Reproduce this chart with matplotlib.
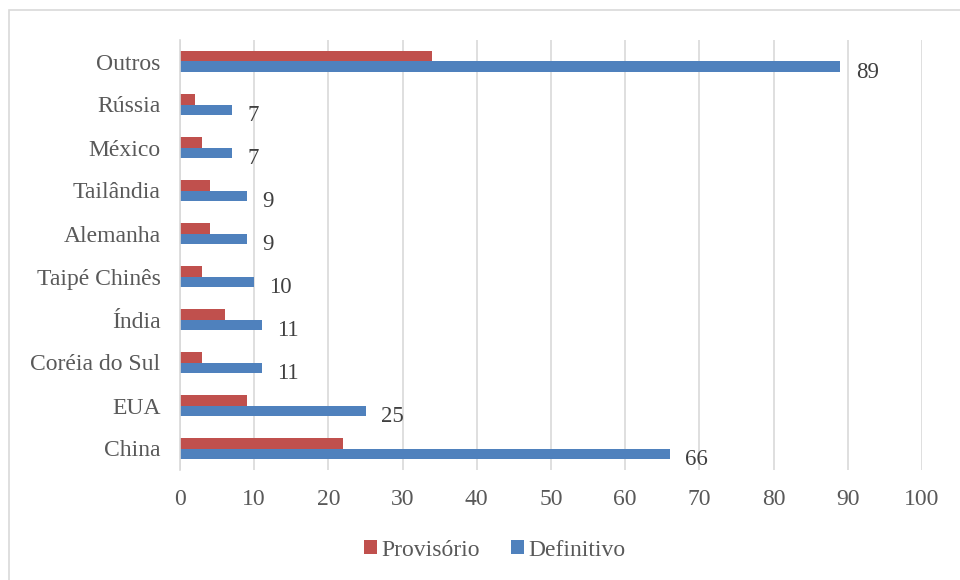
import matplotlib.pyplot as plt
import numpy as np
from matplotlib.patches import Rectangle

# data (bottom to top)
paises = ['China', 'EUA', 'Coréia do Sul', 'Índia', 'Taipé Chinês',
          'Alemanha', 'Tailândia', 'México', 'Rússia', 'Outros']
definitivo = [66, 25, 11, 11, 10, 9, 9, 7, 7, 89]
provisorio = [22, 9, 3, 6, 3, 4, 4, 3, 2, 34]
xticks = [0, 10, 20, 30, 40, 50, 60, 70, 80, 90, 100]

cor_prov = '#C0504D'
cor_def = '#4F81BD'
cor_txt = '#595959'

plt.rcParams['font.family'] = ['Liberation Serif', 'DejaVu Serif']

fig = plt.figure(figsize=(9.6, 5.8), dpi=100)
ax = fig.add_axes([180 / 960, 1 - 470 / 580, 742 / 960, 430 / 580])

y = np.arange(len(paises))
h = 0.255
ax.barh(y + h / 2, provisorio, height=h, color=cor_prov, label='Provisório')
ax.barh(y - h / 2, definitivo, height=h, color=cor_def, label='Definitivo')

for yi, v in zip(y, definitivo):
    ax.annotate(str(v), (v, yi - h / 2), xytext=(11, -4), textcoords='offset points',
                ha='left', va='center', fontsize=16.5, color='#404040')

ax.set_xlim(0, 100)
ax.set_ylim(-0.5, len(paises) - 0.5)
ax.set_xticks(xticks)
ax.set_yticks(y)
ax.set_yticklabels(paises)
ax.tick_params(axis='both', length=0, labelsize=17, labelcolor=cor_txt)
ax.tick_params(axis='x', pad=14)
ax.tick_params(axis='y', pad=14)
ax.grid(axis='x', color='#D9D9D9', linewidth=1.2)
ax.set_axisbelow(True)
for s in ['top', 'right', 'bottom']:
    ax.spines[s].set_visible(False)
ax.spines['left'].set_color('#D9D9D9')
ax.spines['left'].set_linewidth(1.2)

ax.legend(loc='center', bbox_to_anchor=(495 / 960, 1 - 550 / 580),
          bbox_transform=fig.transFigure, ncol=2, frameon=False,
          fontsize=17, handlelength=0.55, handleheight=0.55, handletextpad=0.2,
          columnspacing=1.3, labelcolor=cor_txt)

fig.patches.append(Rectangle((9 / 960, -0.01), 1.0, 1 - 10 / 580 + 0.01,
                             transform=fig.transFigure, fill=False,
                             edgecolor='#D9D9D9', linewidth=1.2))

fig.savefig('out.png', dpi=100)
